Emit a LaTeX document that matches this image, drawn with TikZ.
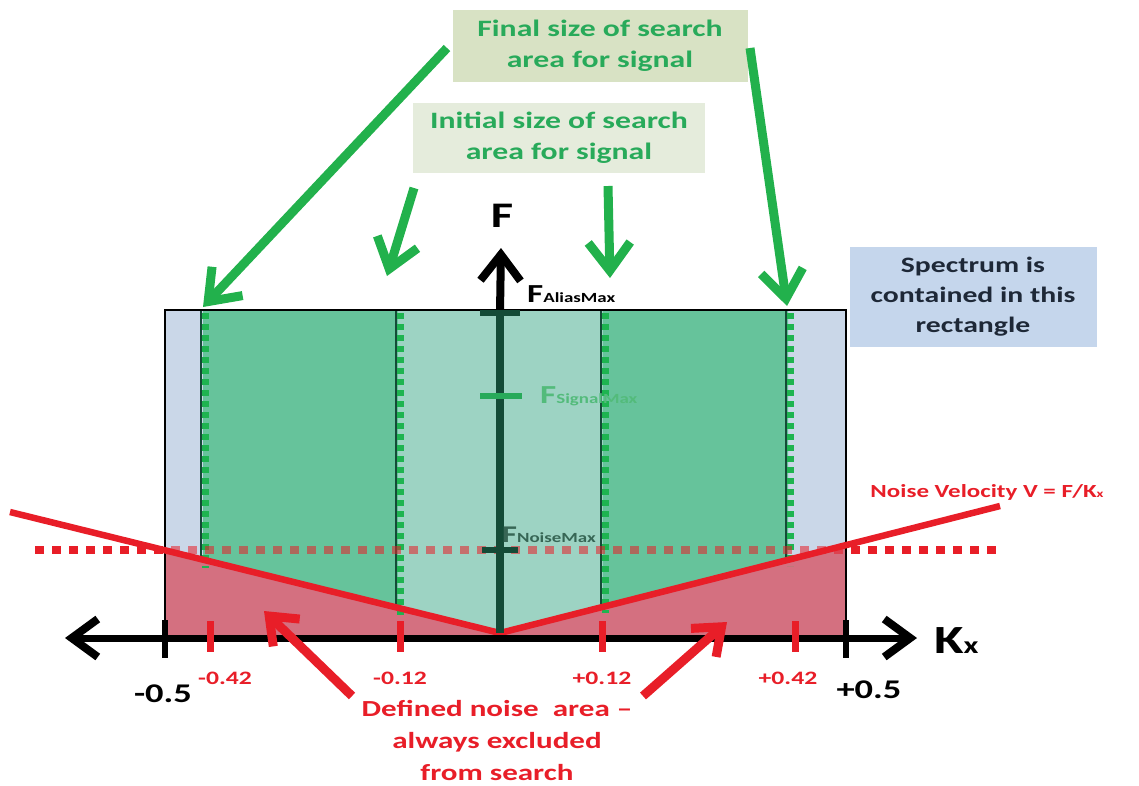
\documentclass[tikz,border=0pt]{standalone}
\usepackage{fontspec}
\setmainfont{Carlito}[FakeStretch=1.35]
\usetikzlibrary{arrows.meta}
\definecolor{specblue}{RGB}{202,215,232}
\definecolor{midgreen}{RGB}{102,195,155}
\definecolor{lightteal}{RGB}{157,211,195}
\definecolor{noisefill}{RGB}{212,112,128}
\definecolor{noisered}{RGB}{232,30,40}
\definecolor{darkaxis}{RGB}{20,75,55}
\definecolor{arrgreen}{RGB}{34,177,76}
\definecolor{dotgreen}{RGB}{30,180,80}
\definecolor{txtgreen}{RGB}{40,170,90}
\definecolor{finalbox}{RGB}{216,226,196}
\definecolor{initbox}{RGB}{229,236,220}
\definecolor{specbox}{RGB}{197,214,236}
\definecolor{spectxt}{RGB}{30,40,55}
\tikzset{
  garrow/.style={draw=arrgreen, line width=9pt, -{Straight Barb[length=28pt,width=42pt,line width=9pt]}},
  rarrow/.style={draw=noisered, line width=9pt, -{Straight Barb[length=24pt,width=38pt,line width=9pt]}},
  karrow/.style={draw=black, line width=7pt, -{Straight Barb[length=26pt,width=38pt,line width=8pt]}},
  labelbox/.style={inner sep=0pt, align=center, font=\bfseries\fontsize{23.5}{31}\selectfont},
  tlabel/.style={font=\bfseries\fontsize{19}{19}\selectfont, text=noisered},
  vline/.style={draw=darkaxis, line width=1.5pt},
  vdots/.style={draw=dotgreen, line width=7pt, dash pattern=on 6pt off 5pt},
  noisedots/.style={draw=noisered, line width=8pt, dash pattern=on 9pt off 8pt},
}
\begin{document}
\begin{tikzpicture}[x=1pt,y=-1pt]
\useasboundingbox (0,0) rectangle (1139,785);
% spectrum rectangle fill
\fill[specblue] (165,310) rectangle (846,637);
% search regions
\fill[midgreen] (203,310) -- (398,310) -- (398,609) -- (203,562) -- cycle;
\fill[lightteal] (398,310) -- (603,310) -- (603,607) -- (500,633) -- (398,609) -- cycle;
\fill[midgreen] (603,310) -- (788,310) -- (788,560) -- (603,607) -- cycle;
% noise area
\fill[noisefill] (165,553) -- (500,633) -- (846,545) -- (846,637) -- (165,637) -- cycle;
% vertical boundary lines
\foreach \x/\y in {203/562, 398/609, 603/607, 788/560} {
  \draw[vline] (\x-2,310) -- (\x-2,\y);
  \draw[vdots] (\x+2,313) -- (\x+2,\y+6);
}
% rectangle outline
\draw[black, line width=2.5pt] (165,310) rectangle (846,637);
% noise max dotted line: opaque outside, translucent inside the rectangle
\coordinate (ndl) at (35,550);
\coordinate (ndr) at (1000,550);
\begin{scope}
  \clip (0,500) rectangle (165,600);
  \draw[noisedots] (ndl) -- (ndr);
\end{scope}
\begin{scope}
  \clip (846,500) rectangle (1139,600);
  \draw[noisedots] (ndl) -- (ndr);
\end{scope}
\begin{scope}
  \clip (165,500) rectangle (846,600);
  \draw[noisedots, opacity=0.55] (ndl) -- (ndr);
\end{scope}
% noise velocity lines
\coordinate (nl) at (10,512);
\coordinate (nv) at (500,633);
\coordinate (nr) at (1000,506);
\draw[noisered, line width=6.5pt, line join=round] (nl) -- (nv) -- (nr);
% F axis
\coordinate (fbot) at (500,633);
\coordinate (ftop) at (500,312);
\coordinate (ftip) at (501,248);
\draw[darkaxis, line width=8pt] (fbot) -- (ftop);
\draw[draw=black, line width=8pt, -{Straight Barb[length=26pt,width=40pt,line width=8pt]}] (ftop) -- (ftip);
\draw[darkaxis, line width=6pt] (480,313) -- (520,313);
\draw[txtgreen, line width=6pt] (480,396) -- (522,396);
\draw[darkaxis, line width=6pt] (482,550) -- (518,550);
\node[font=\bfseries\fontsize{36}{36}\selectfont, anchor=base, inner sep=0pt] (flab) at (502,227) {F};
\node[anchor=base west, inner sep=0pt] (falias) at (527,302) {\bfseries{\fontsize{26}{26}\selectfont F}{\fontsize{14}{14}\selectfont AliasMax}};
\node[anchor=base west, inner sep=0pt, text=txtgreen!80] (fsig) at (540,403) {\bfseries{\fontsize{26}{26}\selectfont F}{\fontsize{14}{14}\selectfont SignalMax}};
\node[anchor=base west, inner sep=0pt, text=darkaxis!85] (fnoise) at (502,542) {\bfseries{\fontsize{24}{24}\selectfont F}{\fontsize{14}{14}\selectfont NoiseMax}};
% Kx axis
\coordinate (kl) at (65,638);
\coordinate (kr) at (917,638);
\coordinate (kmid) at (500,638);
\draw[karrow] (kmid) -- (kl);
\draw[karrow] (kmid) -- (kr);
\node[anchor=base west, inner sep=0pt] (klab) at (934,653) {\bfseries{\fontsize{40}{40}\selectfont K}{\fontsize{24}{24}\selectfont x}};
% ticks
\draw[black, line width=6pt] (165,620) -- (165,658);
\draw[black, line width=6pt] (846,620) -- (846,658);
\foreach \x in {210,400,602,795} \draw[noisered, line width=7pt] (\x,621) -- (\x,652);
\node[tlabel] (t1) at (225,678) {-0.42};
\node[tlabel] (t2) at (400,678) {-0.12};
\node[tlabel] (t3) at (602,678) {+0.12};
\node[tlabel] (t4) at (788,678) {+0.42};
\node[font=\bfseries\fontsize{27}{27}\selectfont] (t5) at (163,694) {-0.5};
\node[font=\bfseries\fontsize{27}{27}\selectfont] (t6) at (869,690) {+0.5};
% label boxes
\node[labelbox, fill=finalbox, text=txtgreen, minimum width=295pt, minimum height=72pt] (final) at (600,46) {Final size of search\\area for signal};
\node[labelbox, fill=initbox, text=txtgreen, minimum width=292pt, minimum height=70pt] (init) at (559,138) {Initial size of search\\area for signal};
\node[labelbox, fill=specbox, text=spectxt, minimum width=247pt, minimum height=100pt, font=\bfseries\fontsize{22}{30}\selectfont] (spec) at (973,297) {Spectrum is\\contained in this\\rectangle};
% green arrows
\coordinate (a1s) at (447,48);
\coordinate (a1e) at (203,307);
\coordinate (a2s) at (750,48);
\coordinate (a2e) at (787,306);
\coordinate (a3s) at (414,188);
\coordinate (a3e) at (387,276);
\coordinate (a4s) at (608,186);
\coordinate (a4e) at (610,278);
\draw[garrow] (a1s) -- (a1e);
\draw[garrow] (a2s) -- (a2e);
\draw[garrow] (a3s) -- (a3e);
\draw[garrow] (a4s) -- (a4e);
% noise text and red arrows
\node[align=center, text=noisered, font=\bfseries\fontsize{23}{32}\selectfont] (noise) at (497,740) {Defined noise\ \ area --\\always excluded\\from search};
\coordinate (r1s) at (352,696);
\coordinate (r1e) at (264,611);
\coordinate (r2s) at (643,696);
\coordinate (r2e) at (727,622);
\draw[rarrow] (r1s) -- (r1e);
\draw[rarrow] (r2s) -- (r2e);
\node[anchor=base, text=noisered, inner sep=0pt] (vel) at (987,497) {\bfseries\fontsize{18.5}{18.5}\selectfont Noise Velocity V = F/K{\fontsize{11}{11}\selectfont x}};
\end{tikzpicture}
\end{document}
